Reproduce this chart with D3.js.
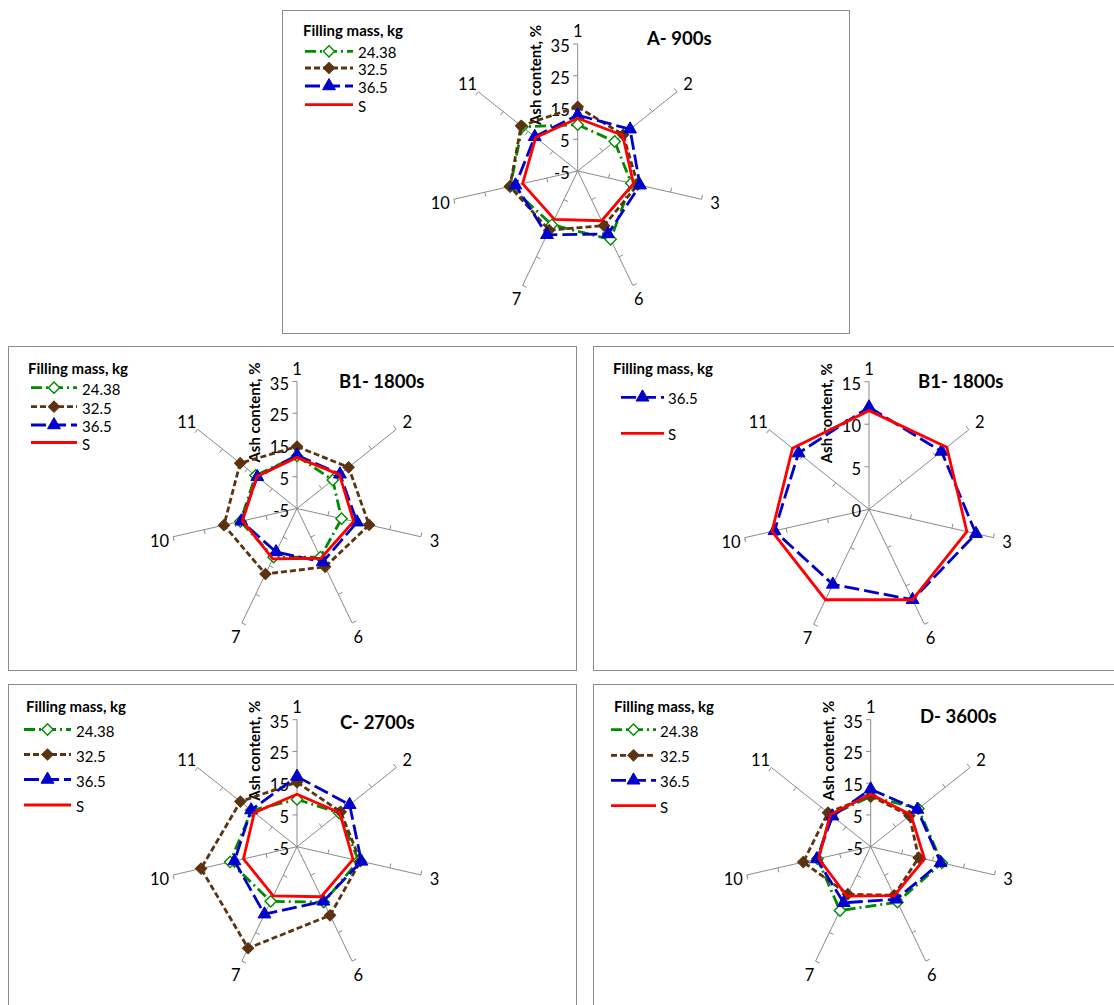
<!DOCTYPE html>
<html>
<head>
<meta charset="utf-8">
<script src="https://cdn.jsdelivr.net/npm/d3@7"></script>
<style>
  html, body { margin: 0; padding: 0; background: #fff; }
  svg { display: block; }
  text { font-family: Lato, "Liberation Sans", sans-serif; fill: #000; }
</style>
</head>
<body>
<svg id="chart" width="1114" height="1005"></svg>
<script>
// ---------------- DATA ----------------
const categories = ["1", "2", "3", "6", "7", "10", "11"];
const seriesNames = ["24.38", "32.5", "36.5", "S"];
const ticksWide = [-5, 5, 15, 25, 35];
const ticksNarrow = [0, 5, 10, 15];
const axisTitle = "Ash content, %";
const legendTitle = "Filling mass, kg";
const panelTitles = ["A- 900s", "B1- 1800s", "B1- 1800s", "C- 2700s", "D- 3600s"];

// A - 900 s
const a_2438 = [9.6, 9.9, 12.3, 18.9, 13.8, 16.8, 17.3];
const a_325  = [15.2, 13.3, 14.4, 14.1, 15.7, 16.9, 17.8];
const a_365  = [12.6, 16.1, 15.1, 17.0, 17.3, 15.1, 12.3];
const a_S    = [11.6, 13.1, 13.0, 12.4, 11.9, 12.8, 11.9];
// B1 - 1800 s (left)
const b_2438 = [11.5, 9.4, 9.4, 12.0, 12.0, 13.3, 11.7];
const b_325  = [14.5, 15.8, 18.3, 15.4, 17.9, 18.6, 17.9];
const b_365  = [11.8, 12.3, 14.4, 13.7, 10.2, 13.0, 11.0];
const b_S    = [11.1, 12.1, 13.3, 12.4, 12.6, 12.6, 11.2];
// B1 - 1800 s (right, 0-15 scale)
const b2_365 = [12.0, 10.9, 12.9, 11.8, 9.8, 11.4, 10.6];
const b2_S   = [11.6, 11.7, 11.8, 11.8, 11.8, 11.7, 11.5];
// C - 2700 s
const c_2438 = [9.9, 12.0, 14.9, 14.4, 14.1, 16.6, 13.3];
const c_325  = [15.3, 12.6, 15.5, 19.0, 30.5, 26.0, 17.8];
const c_365  = [17.1, 16.2, 15.8, 14.1, 18.6, 15.2, 13.5];
const c_S    = [11.5, 12.2, 13.1, 12.5, 12.2, 12.3, 12.2];
// D - 3600 s
const d_2438 = [10.8, 14.2, 18.0, 14.4, 17.3, 12.2, 11.0];
const d_325  = [11.0, 10.6, 10.5, 12.0, 11.6, 16.8, 12.2];
const d_365  = [13.1, 13.8, 17.6, 13.4, 14.6, 12.4, 10.4];
const d_S    = [11.5, 11.2, 12.4, 12.1, 12.3, 11.8, 11.3];

// ---------------- STYLES ----------------
const styles = {
  "24.38": { color: "#008a00", dash: "11,4,2,4", marker: "diamond", fill: "#ffffff" },
  "32.5":  { color: "#5c3310", dash: "6,3",      marker: "diamond", fill: "#5c3310" },
  "36.5":  { color: "#0000cc", dash: "15,5",     marker: "triangle", fill: "#0000cc" },
  "S":     { color: "#ff0000", dash: null,       marker: null,       fill: null }
};

// ---------------- LAYOUT ----------------
const panels = [
  { frame: [282, 10, 567, 323], cx: 577.7, cy: 171, R: 127, domain: [-5, 35], ticks: ticksWide,
    title: panelTitles[0], titleX: 647, titleY: 38,
    legX: 303, legTitleY: 30, legYs: [51.3, 68, 86, 104.7], lineX: [305, 353], textX: 358,
    data: [["24.38", a_2438], ["32.5", a_325], ["36.5", a_365], ["S", a_S]] },
  { frame: [8, 346, 568, 324], cx: 297, cy: 508.5, R: 127, domain: [-5, 35], ticks: ticksWide,
    title: panelTitles[1], titleX: 339, titleY: 381,
    legX: 28, legTitleY: 367.7, legYs: [387.7, 406.7, 425, 442.5], lineX: [31, 77], textX: 82,
    data: [["24.38", b_2438], ["32.5", b_325], ["36.5", b_365], ["S", b_S]] },
  { frame: [593, 346, 540, 324], cx: 869, cy: 509.3, R: 127.6, domain: [0, 15], ticks: ticksNarrow,
    title: panelTitles[2], titleX: 918, titleY: 381,
    legX: 613, legTitleY: 367.7, legYs: [397.3, 433.3], lineX: [621, 664], textX: 668,
    data: [["36.5", b2_365], ["S", b2_S]] },
  { frame: [8, 684, 568, 340], cx: 297, cy: 846.7, R: 127, domain: [-5, 35], ticks: ticksWide,
    title: panelTitles[3], titleX: 340, titleY: 722,
    legX: 26, legTitleY: 705.5, legYs: [729.5, 754.5, 779.5, 805], lineX: [24, 71], textX: 76,
    data: [["24.38", c_2438], ["32.5", c_325], ["36.5", c_365], ["S", c_S]] },
  { frame: [593, 684, 540, 340], cx: 870.7, cy: 846.7, R: 127, domain: [-5, 35], ticks: ticksWide,
    title: panelTitles[4], titleX: 920, titleY: 716,
    legX: 614, legTitleY: 705.5, legYs: [729.7, 755.3, 780.3, 805.7], lineX: [611, 656], textX: 660,
    data: [["24.38", d_2438], ["32.5", d_325], ["36.5", d_365], ["S", d_S]] }
];

const svg = d3.select("#chart");
const n = categories.length;
const angle = d3.scalePoint().domain(categories).range([0, 2 * Math.PI * (n - 1) / n]);

function markerPath(type) {
  if (type === "diamond") return d3.symbol(d3.symbolSquare, 64)();
  if (type === "triangle") return d3.symbol(d3.symbolTriangle, 72)();
  return null;
}

panels.forEach(p => {
  const g = svg.append("g");
  // frame
  g.append("rect")
    .attr("x", p.frame[0] + 0.5).attr("y", p.frame[1] + 0.5)
    .attr("width", p.frame[2]).attr("height", p.frame[3])
    .attr("fill", "none").attr("stroke", "#8c8c8c").attr("stroke-width", 1);

  const r = d3.scaleLinear().domain(p.domain).range([0, p.R]);
  const c = g.append("g").attr("transform", `translate(${p.cx},${p.cy})`);

  // spokes
  categories.forEach(cat => {
    const a = angle(cat);
    const dx = Math.sin(a), dy = -Math.cos(a);
    c.append("line")
      .attr("x1", 0).attr("y1", 0)
      .attr("x2", dx * p.R).attr("y2", dy * p.R)
      .attr("stroke", "#8a8a8a").attr("stroke-width", 1);
    // ticks on CCW side
    const nx = dy, ny = -dx;
    p.ticks.forEach(t => {
      if (t === p.domain[0]) return;
      const rr = r(t);
      c.append("line")
        .attr("x1", dx * rr).attr("y1", dy * rr)
        .attr("x2", dx * rr + nx * 4.5).attr("y2", dy * rr + ny * 4.5)
        .attr("stroke", "#8a8a8a").attr("stroke-width", 1);
    });
    // category label
    const lr = p.R + 14;
    c.append("text")
      .attr("x", dx * lr).attr("y", dy * lr + 1)
      .attr("text-anchor", "middle").attr("dominant-baseline", "central")
      .style("font-size", "16.5px")
      .text(cat);
  });

  // tick labels on first axis
  p.ticks.forEach(t => {
    c.append("text")
      .attr("x", -8).attr("y", -r(t) + 2)
      .attr("text-anchor", "end").attr("dominant-baseline", "central")
      .style("font-size", "16.5px")
      .text(t);
  });

  // axis title
  c.append("text")
    .attr("transform", `translate(${-43},${-96}) rotate(-90)`)
    .attr("text-anchor", "middle").attr("dominant-baseline", "central")
    .style("font-size", "15px").style("font-weight", "bold")
    .text(axisTitle);

  // series
  const line = d3.lineRadial()
    .angle((d, i) => angle(categories[i]))
    .radius(d => r(d))
    .curve(d3.curveLinearClosed);

  p.data.forEach(([name, vals]) => {
    const st = styles[name];
    c.append("path")
      .attr("d", line(vals))
      .attr("fill", "none")
      .attr("stroke", st.color)
      .attr("stroke-width", 2.8)
      .attr("stroke-dasharray", st.dash)
      .attr("stroke-linejoin", "miter");
    if (st.marker) {
      vals.forEach((v, i) => {
        const a = angle(categories[i]);
        const x = Math.sin(a) * r(v), y = -Math.cos(a) * r(v);
        c.append("path")
          .attr("d", markerPath(st.marker))
          .attr("transform", `translate(${x},${y})` + (st.marker === "diamond" ? " rotate(45)" : ""))
          .attr("fill", st.fill)
          .attr("stroke", st.color)
          .attr("stroke-width", st.marker === "diamond" && st.fill === "#ffffff" ? 1.4 : 1);
      });
    }
  });

  // panel title
  g.append("text")
    .attr("x", p.titleX).attr("y", p.titleY)
    .attr("dominant-baseline", "central")
    .style("font-size", "18.5px").style("font-weight", "bold")
    .text(p.title);

  // legend
  g.append("text")
    .attr("x", p.legX).attr("y", p.legTitleY)
    .attr("dominant-baseline", "central")
    .style("font-size", "15px").style("font-weight", "bold")
    .text(legendTitle);

  p.data.forEach(([name], i) => {
    const st = styles[name];
    const y = p.legYs[i];
    const mx = (p.lineX[0] + p.lineX[1]) / 2;
    g.append("line")
      .attr("x1", p.lineX[0]).attr("x2", p.lineX[1])
      .attr("y1", y).attr("y2", y)
      .attr("stroke", st.color).attr("stroke-width", 2.8)
      .attr("stroke-dasharray", st.dash);
    if (st.marker) {
      g.append("path")
        .attr("d", markerPath(st.marker))
        .attr("transform", `translate(${mx},${y})` + (st.marker === "diamond" ? " rotate(45)" : ""))
        .attr("fill", st.fill).attr("stroke", st.color)
        .attr("stroke-width", st.fill === "#ffffff" ? 1.4 : 1);
    }
    g.append("text")
      .attr("x", p.textX).attr("y", y + 1)
      .attr("dominant-baseline", "central")
      .style("font-size", "15px")
      .text(name);
  });
});
</script>
</body>
</html>
